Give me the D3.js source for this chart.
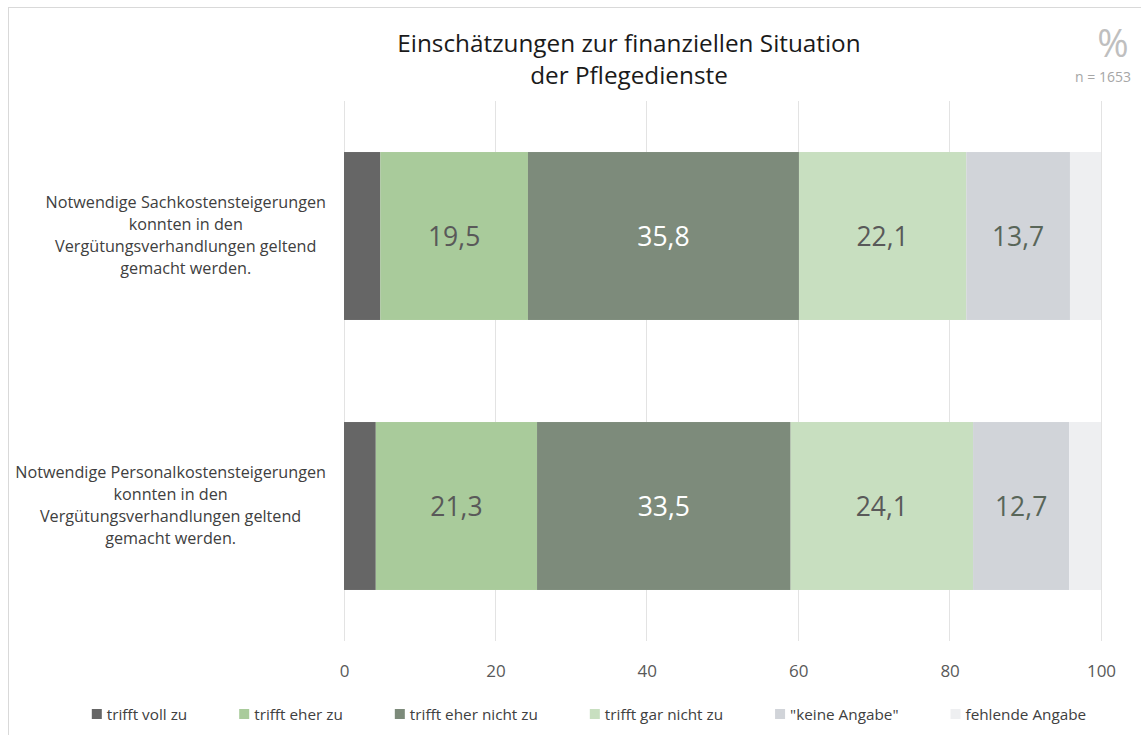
<!DOCTYPE html>
<html><head><meta charset="utf-8">
<script src="https://cdn.jsdelivr.net/npm/d3@7"></script>
<style>body{margin:0;background:#fff}svg{display:block}text{font-family:"Open Sans",sans-serif}</style>
</head><body><svg id="c" width="1141" height="735"></svg>
<script>
const categories = [
  "Notwendige Sachkostensteigerungen|konnten in den|Vergütungsverhandlungen geltend|gemacht werden.",
  "Notwendige Personalkostensteigerungen|konnten in den|Vergütungsverhandlungen geltend|gemacht werden."
];
const seriesNames = ["trifft voll zu","trifft eher zu","trifft eher nicht zu","trifft gar nicht zu","\"keine Angabe\"","fehlende Angabe"];
const trifftVollZu = [4.8, 4.2];
const trifftEherZu = [19.5, 21.3];
const trifftEherNichtZu = [35.8, 33.5];
const trifftGarNichtZu = [22.1, 24.1];
const keineAngabe = [13.7, 12.7];
const fehlendeAngabe = [4.1, 4.2];
const showLabel = [false, true, true, true, true, false];
const tickValues = [0, 20, 40, 60, 80, 100];
const colors = ["#666666","#a9cb9b","#7d8b7b","#c8dfc0","#d1d4d9","#eeeff1"];
const labelColors = ["#fff","#595959","#ffffff","#595959","#596659","#595959"];

const series = [trifftVollZu, trifftEherZu, trifftEherNichtZu, trifftGarNichtZu, keineAngabe, fehlendeAngabe];
const table = categories.map((c, i) => {
  const o = {cat: c};
  seriesNames.forEach((s, j) => o[s] = series[j][i]);
  return o;
});
const stacked = d3.stack().keys(seriesNames)(table);

const svg = d3.select("#c");
svg.append("rect").attr("x", 8.5).attr("y", 7.5).attr("width", 1140).attr("height", 740)
  .attr("fill", "none").attr("stroke", "#d9d9d9");

const x = d3.scaleLinear().domain([0, 100]).range([344, 1101]);
const y = d3.scaleBand().domain(categories).range([101, 641]).paddingInner(0.378).paddingOuter(0.189);

// gridlines
svg.append("g").selectAll("line").data(tickValues).join("line")
  .attr("x1", d => x(d)).attr("x2", d => x(d)).attr("y1", 101).attr("y2", 641)
  .attr("stroke", "#e3e3e3").attr("stroke-width", 1).attr("shape-rendering", "crispEdges");

// axis
const ax = svg.append("g").attr("transform", "translate(0,641)")
  .call(d3.axisBottom(x).tickValues(tickValues).tickSize(0).tickPadding(24));
ax.select(".domain").remove();
ax.selectAll("text").attr("font-size", 17).attr("fill", "#595959").attr("font-family", "'Open Sans', sans-serif");

// bars
const g = svg.append("g");
stacked.forEach((s, j) => {
  g.selectAll(null).data(s).join("rect")
    .attr("x", d => x(d[0])).attr("width", d => x(d[1]) - x(d[0]))
    .attr("y", d => y(d.data.cat)).attr("height", y.bandwidth())
    .attr("fill", colors[j]);
  if (showLabel[j]) {
    g.selectAll(null).data(s).join("text")
      .attr("x", d => (x(d[0]) + x(d[1])) / 2)
      .attr("y", d => y(d.data.cat) + y.bandwidth() / 2 + 10)
      .attr("text-anchor", "middle").attr("font-size", 26.5)
      .attr("fill", labelColors[j])
      .text(d => (d[1] - d[0]).toFixed(1).replace(".", ","));
  }
});

// category labels: block right edge at 326, lines centred in block
categories.forEach(c => {
  const lines = c.split("|");
  const cy = y(c) + y.bandwidth() / 2;
  const t = svg.append("text").attr("text-anchor", "middle").attr("font-size", 16.2).attr("fill", "#404040");
  const spans = lines.map((l, i) => t.append("tspan").attr("y", cy - 28 + i * 22).text(l));
  const maxW = d3.max(spans, s => s.node().getComputedTextLength());
  spans.forEach(s => s.attr("x", 326 - maxW / 2));
});

// title
const title = svg.append("text").attr("text-anchor", "middle").attr("font-size", 24.3).attr("fill", "#1a1a1a");
title.append("tspan").attr("x", 629).attr("y", 52).text("Einschätzungen zur finanziellen Situation");
title.append("tspan").attr("x", 629).attr("y", 84).text("der Pflegedienste");

// % and n
svg.append("text").attr("x", 1113).attr("y", 57).attr("text-anchor", "middle")
  .attr("font-size", 38).attr("fill", "#bfbfbf").text("%");
svg.append("text").attr("x", 1131).attr("y", 82).attr("text-anchor", "end")
  .attr("font-size", 14).attr("fill", "#a6a6a6").text("n = 1653");

// legend
const leg = svg.append("g");
const items = leg.selectAll("g").data(seriesNames).join("g");
items.append("rect").attr("width", 10).attr("height", 10).attr("y", -11).attr("fill", (d, i) => colors[i]);
items.append("text").attr("x", 15).attr("font-size", 15.3).attr("fill", "#404040").text(d => d);
let cx = 0;
const gap = 52;
items.each(function() {
  const w = 15 + this.querySelector("text").getComputedTextLength();
  d3.select(this).attr("transform", `translate(${cx},720)`);
  cx += w + gap;
});
const totalW = cx - gap;
leg.attr("transform", `translate(${589 - totalW / 2},0)`);
</script></body></html>
